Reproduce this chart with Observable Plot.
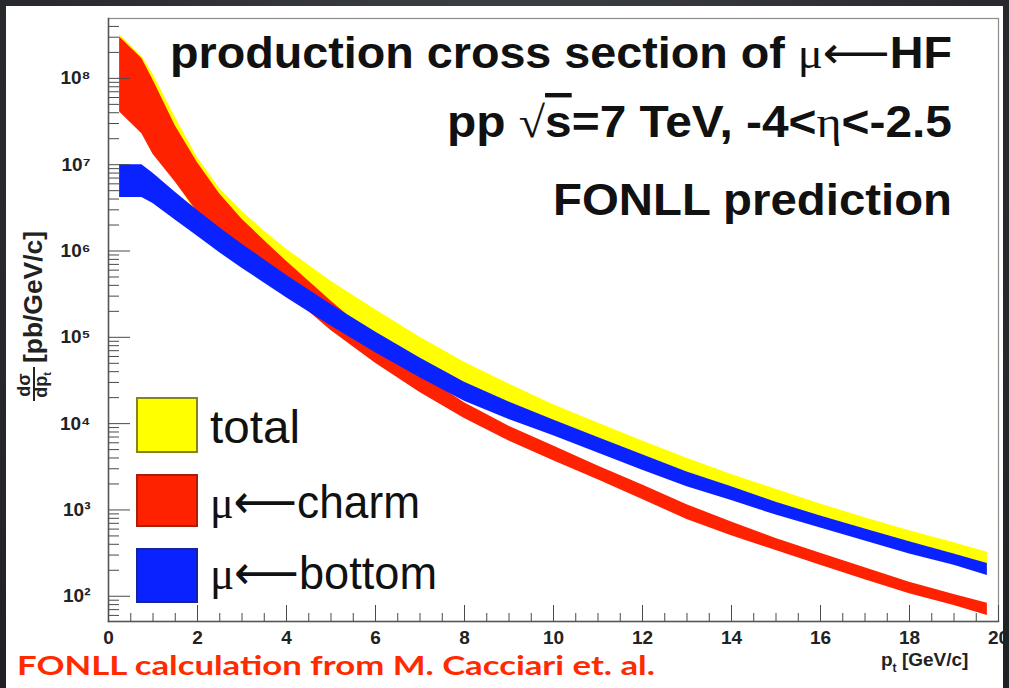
<!DOCTYPE html>
<html><head><meta charset="utf-8">
<script src="https://cdn.jsdelivr.net/npm/d3@7"></script>
<script src="https://cdn.jsdelivr.net/npm/@observablehq/plot@0.6"></script>
<style>
html,body{margin:0;padding:0;}
body{width:1009px;height:688px;overflow:hidden;position:relative;
 background:radial-gradient(ellipse at 50% 20%, #40434a 0%, #2c2e33 55%, #1f2125 100%);
 font-family:"Liberation Sans", Arial, sans-serif;}
#panel{position:absolute;left:6px;top:6px;width:997px;height:682px;background:#fff;overflow:hidden;}
#ov{position:absolute;left:0;top:0;pointer-events:none;}
</style></head><body>
<div id="panel"></div>
<script>
// ---- data (pb/GeV/c) ----
const pt = [0.25,0.75,1,1.5,2,2.5,3,3.5,4,5,6,7,8,9,10,11,12,13,14,15,16,17,18,19,19.75];
const totalHi = [3.2e8,1.8e8,1.12e8,3.55e7,1.2e7,5.25e6,2.88e6,1.70e6,1.05e6,4.47e5,2.09e5,1.0e5,5.13e4,2.88e4,1.66e4,1.02e4,6.3e3,3.98e3,2.57e3,1.74e3,1.17e3,813,575,417,324];
const totalLo = [4.37e7,2.45e7,1.41e7,6.76e6,2.51e6,1.41e6,8.91e5,5.62e5,3.55e5,1.48e5,7.24e4,3.72e4,2.0e4,1.23e4,7.94e3,5.01e3,3.16e3,2.04e3,1.41e3,955,676,479,339,251,191];
const charmHi = [3.02e8,1.70e8,9.55e7,2.82e7,1.05e7,4.57e6,2.34e6,1.32e6,7.59e5,2.63e5,9.55e4,3.80e4,1.74e4,9.33e3,5.50e3,3.24e3,1.95e3,1.15e3,724,468,316,214,145,105,83];
const charmLo = [4.07e7,2.29e7,1.32e7,6.31e6,2.82e6,1.58e6,9.33e5,5.50e5,3.31e5,1.20e5,5.01e4,2.29e4,1.15e4,6.31e3,3.72e3,2.24e3,1.32e3,776,501,339,229,155,107,78,60];
const bottomHi = [1.0e7,1.0e7,7.94e6,4.79e6,2.95e6,1.86e6,1.20e6,7.94e5,5.25e5,2.40e5,1.15e5,5.75e4,3.02e4,1.78e4,1.10e4,6.92e3,4.37e3,2.75e3,1.86e3,1.23e3,851,603,427,309,240];
const bottomLo = [4.17e6,4.17e6,3.55e6,2.29e6,1.48e6,9.55e5,6.31e5,4.27e5,2.88e5,1.35e5,6.61e4,3.39e4,1.82e4,1.12e4,7.24e3,4.57e3,2.88e3,1.86e3,1.29e3,871,617,437,309,229,174];

const seriesNames = ["total", "μ⟵charm", "μ⟵bottom"];
const seriesColors = ["#ffff00", "#ff2200", "#0a22ff"];
const legendBorders = ["#85851c", "#a8200c", "#1424a0"];

const yExponents = [2,3,4,5,6,7,8];
const supDigits = {2:"²",3:"³",4:"⁴",5:"⁵",6:"⁶",7:"⁷",8:"⁸"};
const xMajor = [0,2,4,6,8,10,12,14,16,18,20];

// ---- tables ----
const band = (lo, hi) => pt.map((p, i) => ({pt: p, lo: lo[i], hi: hi[i]}));
const bands = [band(totalLo, totalHi), band(charmLo, charmHi), band(bottomLo, bottomHi)];

const yMajor = yExponents.map(e => Math.pow(10, e));
const yMinor = [];
for (let e = 1; e <= 8; e++) for (let m = 2; m <= 9; m++) { const v = m * Math.pow(10, e); if (v >= 51 && v <= 4.9e8) yMinor.push(v); }
const xMinor = [];
for (let v = 0.5; v < 20; v += 0.5) if (v % 2 !== 0) xMinor.push(v);

const tickColor = "#4a4a4a";
const chart = Plot.plot({
  width: 997, height: 682,
  marginLeft: 102, marginTop: 12, marginRight: 5, marginBottom: 67,
  x: {domain: [0, 20], label: null},
  y: {type: "log", domain: [51, 4.94e8], label: null},
  style: {background: "transparent", fontFamily: "Liberation Sans, Arial, sans-serif", overflow: "visible"},
  marks: [
    ...bands.map((b, i) => Plot.areaY(b, {x: "pt", y1: "lo", y2: "hi", fill: seriesColors[i], curve: "linear"})),
    Plot.frame({stroke: "#8c8c8c", strokeWidth: 1.2}),
    Plot.frame({anchor: "left", stroke: "#555", strokeWidth: 1.5}),
    Plot.frame({anchor: "bottom", stroke: "#555", strokeWidth: 1.5}),
    Plot.axisY(yMajor, {anchor: "left", tickSize: -22, tickFormat: () => "", stroke: tickColor, label: null}),
    Plot.axisY(yMinor, {anchor: "left", tickSize: -11, tickFormat: () => "", stroke: tickColor, label: null}),
    Plot.axisY(yMajor, {anchor: "left", tickSize: 0, tickPadding: 18, label: null,
      tickFormat: d => "10" + supDigits[Math.round(Math.log10(d))],
      fontSize: 19, fontWeight: "bold", fill: "#222"}),
    Plot.axisX(xMajor, {anchor: "bottom", tickSize: -16, tickFormat: () => "", stroke: tickColor, label: null}),
    Plot.axisX(xMinor, {anchor: "bottom", tickSize: -8, tickFormat: () => "", stroke: tickColor, label: null}),
    Plot.axisX(xMajor, {anchor: "bottom", tickSize: 0, tickPadding: 9, label: null,
      fontSize: 19, fontWeight: "bold", fill: "#222"})
  ]
});
document.getElementById("panel").appendChild(chart);

// ---- overlay texts & legend (page coordinates) ----
const ov = d3.select("body").append("svg").attr("id", "ov").attr("width", 1009).attr("height", 688);
const SANS = "Liberation Sans, Arial, sans-serif", SERIF = "Liberation Serif, DejaVu Serif, serif", ARW = "DejaVu Sans, sans-serif";

function line(x, y, width, size, parts, color = "#111") {
  const t = ov.append("text").attr("x", x).attr("y", y).attr("font-size", size).attr("fill", color)
    .attr("textLength", width).attr("lengthAdjust", "spacingAndGlyphs");
  parts.forEach(p => {
    const s = t.append("tspan").text(p.t).attr("font-family", p.f || SANS).attr("font-weight", p.w || "bold");
    if (p.deco) s.style("text-decoration", p.deco);
  });
  return t;
}
const splitArrow = (name, w) => name.includes("⟵")
  ? [{t: "μ", f: SERIF, w: "normal"}, {t: "⟵", f: ARW, w: "normal"}, {t: name.split("⟵")[1], w}]
  : [{t: name, w}];

line(170, 68, 782, 44, [{t: "production cross section of "}, {t: "μ", f: SERIF, w: "normal"}, {t: "⟵", f: ARW, w: "normal"}, {t: "HF"}]);
line(447, 137, 505, 44, [{t: "pp "}, {t: "√", f: SERIF, w: "normal"}, {t: "s", deco: "overline"}, {t: "=7 TeV, -4<"}, {t: "η", f: SERIF, w: "normal"}, {t: "<-2.5"}]);
line(553, 215, 399, 44, [{t: "FONLL prediction"}]);

// legend
const legY = [398, 475, 549], legH = [54, 51, 53], legText = [443, 518, 589], legW = [90, 210, 227];
seriesNames.forEach((name, i) => {
  ov.append("rect").attr("x", 137).attr("y", legY[i]).attr("width", 60).attr("height", legH[i])
    .attr("fill", seriesColors[i]).attr("stroke", legendBorders[i]).attr("stroke-width", 2);
  line(210, legText[i], legW[i], 47, splitArrow(name, "normal"), "#111");
});

// y-axis title (rotated)
const yt = ov.append("g").attr("transform", "translate(33,317) rotate(-90)");
yt.append("text").attr("x", -46).attr("y", 9).attr("font-size", 26).attr("font-weight", "bold").attr("font-family", SANS)
  .attr("fill", "#222").attr("textLength", 132).attr("lengthAdjust", "spacingAndGlyphs").text("[pb/GeV/c]");
yt.append("text").attr("x", -68).attr("y", -3).attr("text-anchor", "middle").attr("font-size", 18).attr("font-weight", "bold")
  .attr("font-family", SANS).attr("fill", "#222").text("dσ");
const den = yt.append("text").attr("x", -68).attr("y", 14).attr("text-anchor", "middle").attr("font-size", 18).attr("font-weight", "bold")
  .attr("font-family", SANS).attr("fill", "#222");
den.append("tspan").text("dp");
den.append("tspan").text("t").attr("font-size", 11).attr("dy", 4);
yt.append("line").attr("x1", -84).attr("x2", -50).attr("y1", 1).attr("y2", 1).attr("stroke", "#222").attr("stroke-width", 2);

// x-axis title
const xt = ov.append("text").attr("x", 881).attr("y", 666).attr("font-size", 19).attr("font-weight", "bold")
  .attr("font-family", SANS).attr("fill", "#222");
xt.append("tspan").text("p");
xt.append("tspan").text("t").attr("font-size", 12).attr("dy", 6);
xt.append("tspan").text(" [GeV/c]").attr("dy", -6);

// caption
ov.append("text").attr("x", 17).attr("y", 675).attr("font-size", 27).attr("font-weight", "bold")
  .attr("font-family", "Lato, 'Noto Sans', sans-serif").attr("fill", "#ff2a00")
  .attr("textLength", 638).attr("lengthAdjust", "spacingAndGlyphs")
  .text("FONLL calculation from M. Cacciari et. al.");
</script>
</body></html>
